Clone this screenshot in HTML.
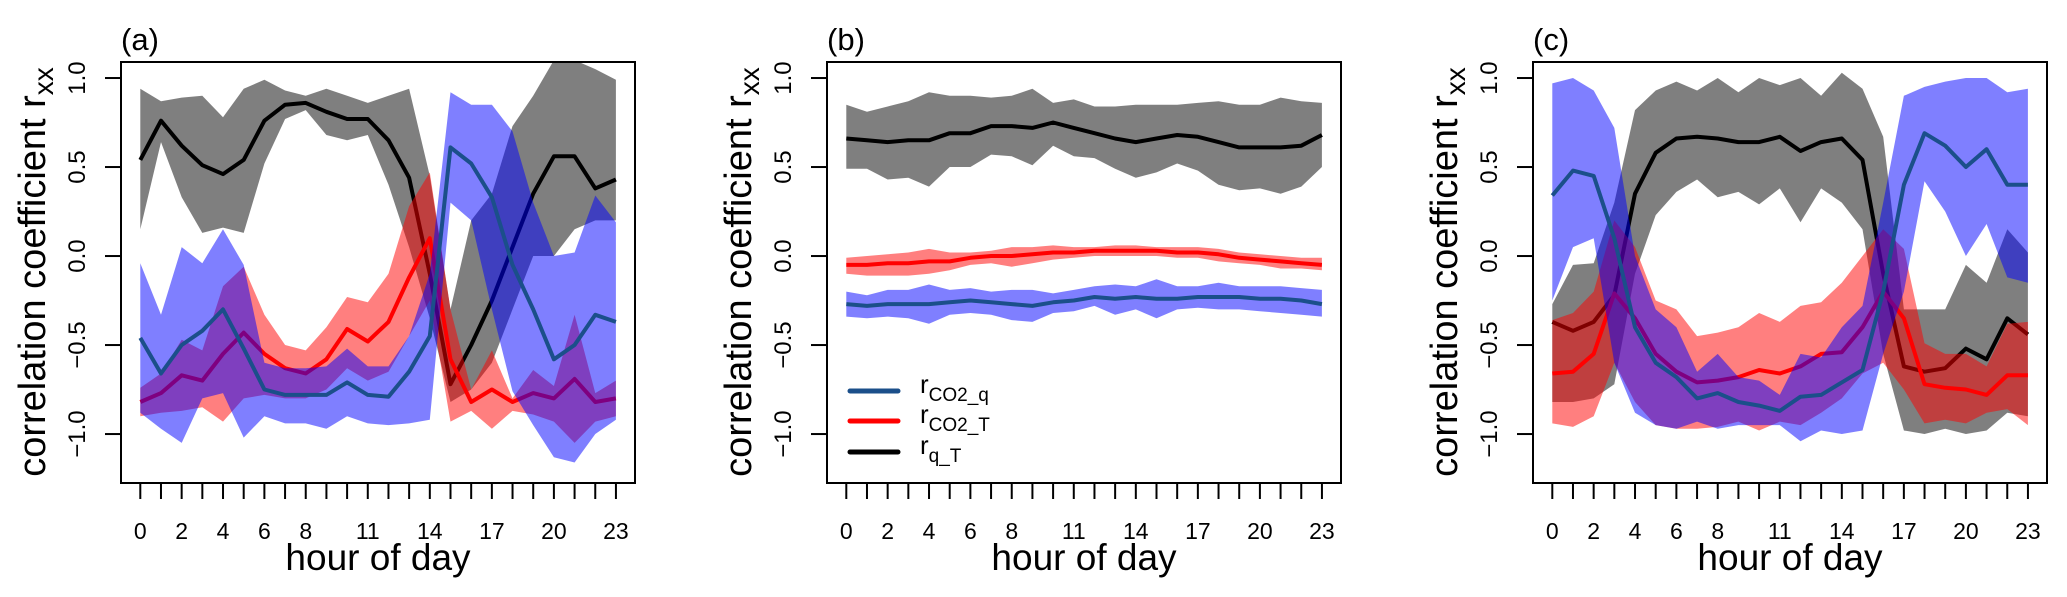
<!DOCTYPE html>
<html><head><meta charset="utf-8"><style>
html,body{margin:0;padding:0;background:#fff;}
svg{display:block;font-family:"Liberation Sans",Arial,sans-serif;}
</style></head><body>
<svg id="fig" width="2067" height="597" viewBox="0 0 2067 597" xmlns="http://www.w3.org/2000/svg"></svg>
<script>
const hours = [...Array(24).keys()];
const xTickLabels = [0,2,4,6,8,11,14,17,20,23];
const yTickValues = [-1.0,-0.5,0.0,0.5,1.0];
const yTickLabels = ["\u22121.0","\u22120.5","0.0","0.5","1.0"];
const panelLetters = ["(a)","(b)","(c)"];

// Panel (a)
const aQTMean = [0.54,0.76,0.62,0.51,0.46,0.54,0.76,0.85,0.86,0.81,0.77,0.77,0.65,0.44,-0.1,-0.72,-0.5,-0.25,0.05,0.35,0.56,0.56,0.38,0.43];
const aQTUp   = [0.94,0.87,0.89,0.9,0.78,0.94,0.99,0.93,0.9,0.94,0.9,0.86,0.9,0.94,0.45,-0.3,0.2,0.35,0.73,0.9,1.1,1.1,1.05,0.99];
const aQTLo   = [0.15,0.64,0.33,0.13,0.16,0.13,0.52,0.77,0.82,0.68,0.65,0.68,0.4,0.05,-0.35,-0.82,-0.75,-0.6,-0.3,0.0,0.0,0.15,0.2,0.2];
const aCTMean = [-0.82,-0.77,-0.67,-0.7,-0.55,-0.43,-0.55,-0.63,-0.66,-0.58,-0.41,-0.48,-0.37,-0.12,0.1,-0.58,-0.82,-0.75,-0.82,-0.77,-0.8,-0.69,-0.82,-0.8];
const aCTUp   = [-0.74,-0.66,-0.47,-0.53,-0.17,-0.06,-0.33,-0.5,-0.53,-0.4,-0.23,-0.26,-0.1,0.28,0.47,-0.3,-0.75,-0.53,-0.8,-0.64,-0.73,-0.33,-0.77,-0.7];
const aCTLo   = [-0.9,-0.88,-0.87,-0.85,-0.93,-0.8,-0.78,-0.8,-0.8,-0.75,-0.63,-0.7,-0.65,-0.45,-0.25,-0.93,-0.87,-0.97,-0.87,-0.89,-0.93,-1.05,-0.93,-0.9];
const aCQMean = [-0.46,-0.66,-0.5,-0.42,-0.3,-0.52,-0.75,-0.78,-0.78,-0.78,-0.71,-0.78,-0.79,-0.65,-0.45,0.61,0.52,0.33,-0.05,-0.3,-0.58,-0.5,-0.33,-0.37];
const aCQUp   = [-0.04,-0.33,0.05,-0.04,0.15,-0.05,-0.6,-0.63,-0.63,-0.62,-0.52,-0.62,-0.62,-0.45,-0.1,0.92,0.85,0.85,0.7,0.3,0.0,0.02,0.34,0.19];
const aCQLo   = [-0.88,-0.97,-1.05,-0.8,-0.77,-1.02,-0.9,-0.94,-0.94,-0.97,-0.9,-0.94,-0.95,-0.94,-0.92,0.3,0.2,-0.3,-0.76,-0.95,-1.13,-1.16,-1.0,-0.92];

// Panel (b)
const bQTMean = [0.66,0.65,0.64,0.65,0.65,0.69,0.69,0.73,0.73,0.72,0.75,0.72,0.69,0.66,0.64,0.66,0.68,0.67,0.64,0.61,0.61,0.61,0.62,0.68];
const bQTUp   = [0.85,0.81,0.84,0.87,0.92,0.9,0.9,0.89,0.9,0.94,0.86,0.88,0.84,0.84,0.85,0.85,0.85,0.86,0.87,0.85,0.85,0.89,0.87,0.86];
const bQTLo   = [0.49,0.49,0.43,0.44,0.39,0.5,0.5,0.57,0.56,0.51,0.62,0.56,0.55,0.49,0.44,0.47,0.52,0.48,0.4,0.37,0.38,0.35,0.39,0.5];
const bCTMean = [-0.05,-0.05,-0.04,-0.04,-0.03,-0.03,-0.01,0,0,0.01,0.02,0.02,0.03,0.03,0.03,0.03,0.02,0.02,0.01,-0.01,-0.02,-0.03,-0.04,-0.05];
const bCTUp   = [-0.01,0.0,0.01,0.02,0.04,0.02,0.02,0.03,0.05,0.05,0.06,0.05,0.05,0.06,0.06,0.05,0.05,0.05,0.04,0.02,0.01,0.0,-0.01,-0.01];
const bCTLo   = [-0.1,-0.11,-0.11,-0.11,-0.1,-0.08,-0.05,-0.04,-0.06,-0.04,-0.02,-0.01,0.0,0.0,0.0,0.0,-0.01,-0.01,-0.03,-0.04,-0.05,-0.07,-0.07,-0.08];
const bCQMean = [-0.27,-0.28,-0.27,-0.27,-0.27,-0.26,-0.25,-0.26,-0.27,-0.28,-0.26,-0.25,-0.23,-0.24,-0.23,-0.24,-0.24,-0.23,-0.23,-0.23,-0.24,-0.24,-0.25,-0.27];
const bCQUp   = [-0.2,-0.22,-0.19,-0.19,-0.16,-0.19,-0.18,-0.2,-0.19,-0.19,-0.21,-0.19,-0.17,-0.16,-0.17,-0.13,-0.17,-0.17,-0.15,-0.17,-0.17,-0.17,-0.18,-0.19];
const bCQLo   = [-0.34,-0.35,-0.34,-0.35,-0.38,-0.33,-0.32,-0.33,-0.36,-0.37,-0.32,-0.31,-0.28,-0.33,-0.3,-0.35,-0.3,-0.29,-0.3,-0.3,-0.31,-0.32,-0.33,-0.34];

// Panel (c)
const cQTMean = [-0.37,-0.42,-0.37,-0.22,0.35,0.58,0.66,0.67,0.66,0.64,0.64,0.67,0.59,0.64,0.66,0.54,-0.1,-0.62,-0.65,-0.63,-0.52,-0.58,-0.35,-0.44];
const cQTUp   = [-0.27,-0.05,-0.04,0.3,0.82,0.93,0.98,0.93,1.0,0.92,1.0,0.96,1.0,0.9,1.03,0.94,0.67,-0.3,-0.3,-0.3,-0.05,-0.15,0.15,0.02];
const cQTLo   = [-0.82,-0.82,-0.8,-0.72,-0.1,0.23,0.36,0.43,0.33,0.36,0.29,0.38,0.19,0.38,0.3,0.15,-0.55,-0.98,-1.0,-0.97,-1.0,-0.98,-0.88,-0.9];
const cCTMean = [-0.66,-0.65,-0.55,-0.21,-0.35,-0.55,-0.65,-0.71,-0.7,-0.68,-0.64,-0.66,-0.62,-0.55,-0.54,-0.4,-0.2,-0.35,-0.72,-0.74,-0.75,-0.78,-0.67,-0.67];
const cCTUp   = [-0.36,-0.32,-0.2,0.2,0.05,-0.25,-0.3,-0.45,-0.43,-0.4,-0.32,-0.37,-0.28,-0.26,-0.15,0.0,0.15,0.04,-0.49,-0.55,-0.55,-0.62,-0.38,-0.37];
const cCTLo   = [-0.94,-0.96,-0.9,-0.6,-0.82,-0.95,-0.97,-0.97,-0.96,-0.93,-0.98,-0.93,-0.95,-0.88,-0.8,-0.66,-0.6,-0.75,-0.94,-0.92,-0.94,-0.88,-0.86,-0.95];
const cCQMean = [0.34,0.48,0.45,0.1,-0.4,-0.6,-0.68,-0.8,-0.77,-0.82,-0.84,-0.87,-0.79,-0.78,-0.71,-0.64,-0.2,0.4,0.69,0.62,0.5,0.6,0.4,0.4];
const cCQUp   = [0.97,1.0,0.93,0.72,0.0,-0.3,-0.4,-0.65,-0.55,-0.68,-0.7,-0.78,-0.55,-0.57,-0.4,-0.28,0.3,0.9,0.95,0.98,1.0,1.0,0.92,0.94];
const cCQLo   = [-0.25,0.05,0.1,-0.6,-0.88,-0.95,-0.97,-0.93,-0.97,-0.95,-0.95,-0.95,-1.04,-0.98,-1.0,-0.98,-0.55,-0.2,0.42,0.25,0.0,0.18,-0.12,-0.15];

const panels = [
  {qt:[aQTMean,aQTUp,aQTLo], ct:[aCTMean,aCTUp,aCTLo], cq:[aCQMean,aCQUp,aCQLo]},
  {qt:[bQTMean,bQTUp,bQTLo], ct:[bCTMean,bCTUp,bCTLo], cq:[bCQMean,bCQUp,bCQLo]},
  {qt:[cQTMean,cQTUp,cQTLo], ct:[cCTMean,cCTUp,cCTLo], cq:[cCQMean,cCQUp,cCQLo]}
];

const NS = "http://www.w3.org/2000/svg";
const svg = document.getElementById("fig");
function mk(tag, attrs, parent){
  const e = document.createElementNS(NS, tag);
  for (const k in attrs) e.setAttribute(k, attrs[k]);
  (parent||svg).appendChild(e);
  return e;
}
const BOX_W = 514, BOX_T = 62, BOX_B = 483;
const offsets = [121, 827, 1533];
const YMIN = -1.275, YMAX = 1.09;
function yScale(v){ return BOX_B - (v - YMIN) / (YMAX - YMIN) * (BOX_B - BOX_T); }

panels.forEach((p, i) => {
  const L = offsets[i];
  const xScale = h => L + 19.3 + h * 20.68;
  const g = mk("g", {});
  
  

  const clipId = "clip" + i;
  const cp = mk("clipPath", {id: clipId}, g);
  mk("rect", {x: L, y: BOX_T, width: BOX_W, height: BOX_B - BOX_T}, cp);
  const plot = mk("g", {"clip-path": "url(#" + clipId + ")"}, g);
  
  

  function band(up, lo, fill, name){
    let pts = hours.map(h => xScale(h).toFixed(1) + "," + yScale(up[h]).toFixed(1));
    pts = pts.concat(hours.slice().reverse().map(h => xScale(h).toFixed(1) + "," + yScale(lo[h]).toFixed(1)));
    const el = mk("polygon", {points: pts.join(" "), fill: fill, stroke: "none"}, plot);
    
    
  }
  function line(m, color, name){
    const pts = hours.map(h => xScale(h).toFixed(1) + "," + yScale(m[h]).toFixed(1)).join(" ");
    const el = mk("polyline", {points: pts, fill: "none", stroke: color, "stroke-width": 4, "stroke-linejoin": "round"}, plot);
    
    
  }
  band(p.qt[1], p.qt[2], "rgba(0,0,0,0.5)", "band-q-T");
  line(p.qt[0], "#000", "line-q-T");
  band(p.ct[1], p.ct[2], "rgba(255,0,0,0.5)", "band-co2-T");
  line(p.ct[0], "#ff0000", "line-co2-T");
  band(p.cq[1], p.cq[2], "rgba(0,0,255,0.5)", "band-co2-q");
  line(p.cq[0], "#1b4f8a", "line-co2-q");

  const box = mk("rect", {x: L, y: BOX_T, width: BOX_W, height: BOX_B - BOX_T, fill: "none", stroke: "#000", "stroke-width": 2}, g);
  
  

  hours.forEach(h => {
    const t = mk("line", {x1: xScale(h), x2: xScale(h), y1: BOX_B, y2: BOX_B + 16, stroke: "#000", "stroke-width": 2}, g);
    
    
  });
  xTickLabels.forEach(h => {
    const t = mk("text", {x: xScale(h), y: 539, "font-size": 23, "text-anchor": "middle", fill: "#000"}, g);
    t.textContent = h;
    
    
  });
  const xt = mk("text", {x: L + BOX_W/2, y: 570, "font-size": 37, "text-anchor": "middle", fill: "#000"}, g);
  xt.textContent = "hour of day";
  
  

  yTickValues.forEach((v, k) => {
    const t = mk("line", {x1: L - 16, x2: L, y1: yScale(v), y2: yScale(v), stroke: "#000", "stroke-width": 2}, g);
    
    
    const lx = L - 36;
    const tl = mk("text", {x: lx, y: yScale(v), "font-size": 24, "text-anchor": "middle", fill: "#000", transform: "rotate(-90 " + lx + " " + yScale(v) + ")"}, g);
    tl.textContent = yTickLabels[k];
    
    
  });
  const yx = L - 76, yy = 272;
  const yt = mk("text", {x: yx, y: yy, "font-size": 38, "text-anchor": "middle", fill: "#000", transform: "rotate(-90 " + yx + " " + yy + ")"}, g);
  
  
  yt.appendChild(document.createTextNode("correlation coefficient r"));
  const sub = mk("tspan", {"font-size": 28, dy: 8}, yt);
  sub.textContent = "xx";

  const pl = mk("text", {x: L, y: 50, "font-size": 31, fill: "#000"}, g);
  pl.textContent = panelLetters[i];
  
  

  if (i === 1) {
    const leg = mk("g", {}, g);
    
    
    const items = [["#1b4f8a","CO2_q",391],["#ff0000","CO2_T",421],["#000","q_T",452]];
    items.forEach(it => {
      const ln = mk("line", {x1: 850, x2: 898, y1: it[2], y2: it[2], stroke: it[0], "stroke-width": 5, "stroke-linecap": "round"}, leg);
      
      
      const tx = mk("text", {x: 920, y: it[2] + 2, "font-size": 26, fill: "#000"}, leg);
      
      
      tx.appendChild(document.createTextNode("r"));
      const s = mk("tspan", {"font-size": 19, dy: 8}, tx);
      s.textContent = it[1];
    });
  }
});
</script>
</body></html>
